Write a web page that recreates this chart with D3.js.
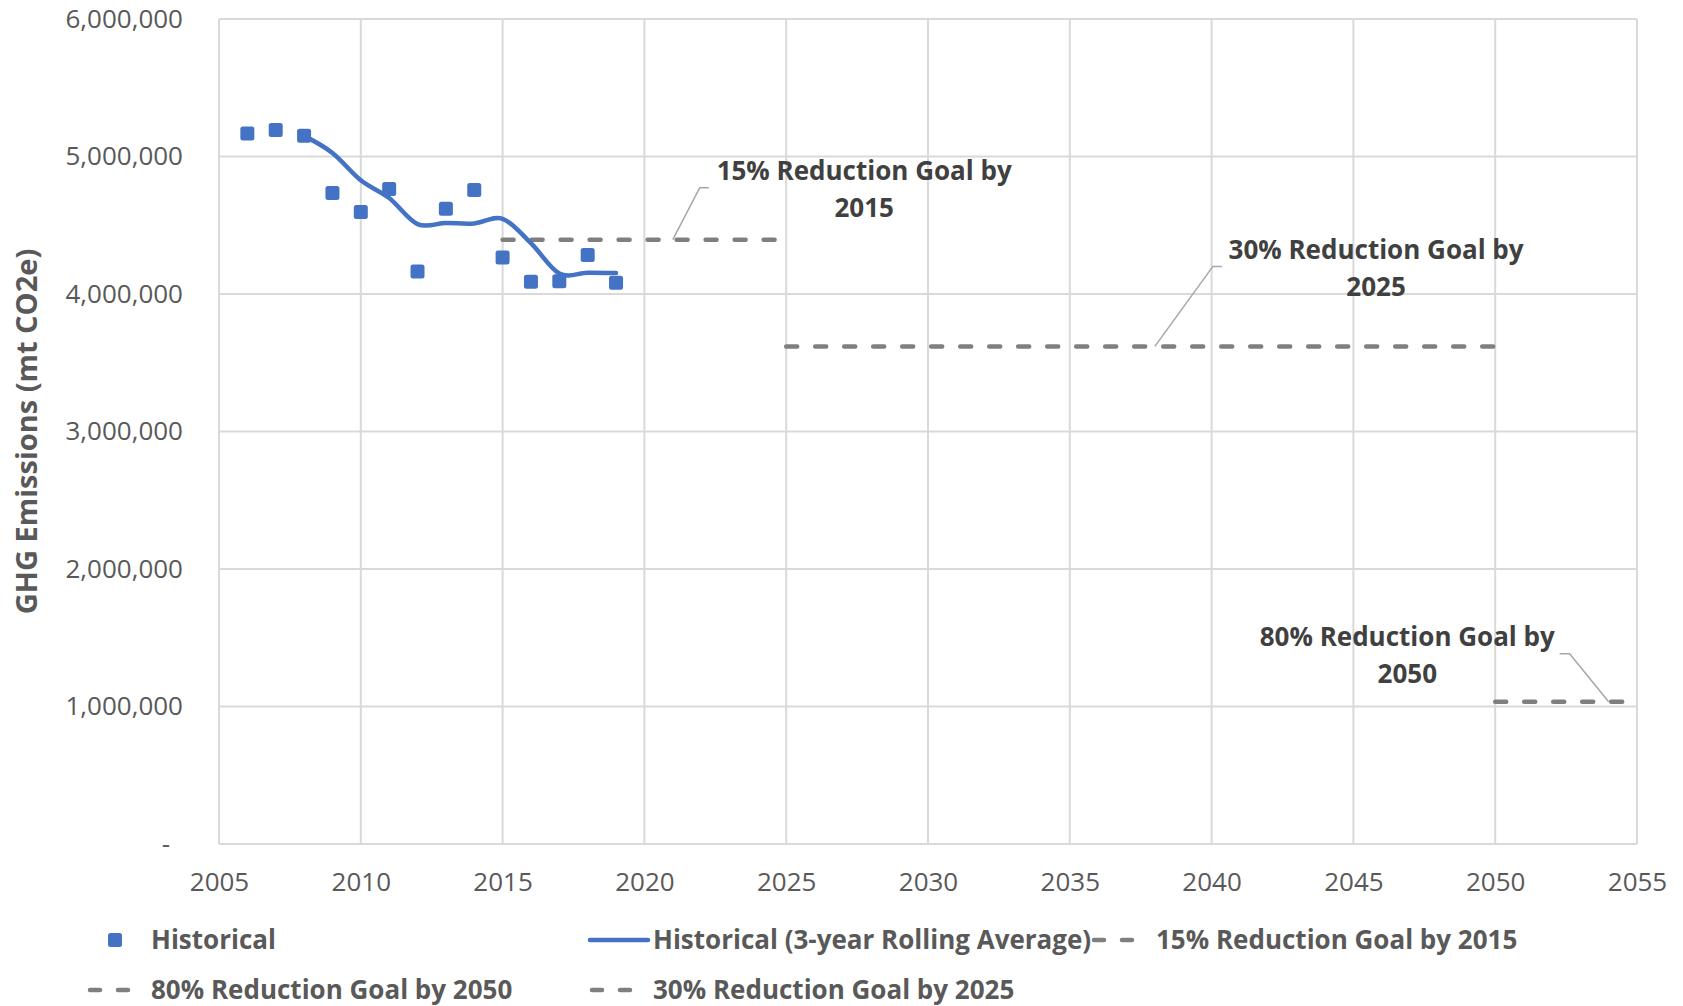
<!DOCTYPE html>
<html>
<head>
<meta charset="utf-8">
<script src="https://cdn.jsdelivr.net/npm/d3@7"></script>
<style>
  body { margin: 0; background: #fff; }
  text { font-family: "Segoe UI", "Open Sans", sans-serif; }
</style>
</head>
<body>
<div id="chart"></div>
<script>
// historical emissions (mt CO2e)
const years = [2006, 2007, 2008, 2009, 2010, 2011, 2012, 2013, 2014, 2015, 2016, 2017, 2018, 2019];
const historical = [5168000, 5193000, 5151000, 4735000, 4596000, 4764000, 4164000, 4620000, 4756000, 4266000, 4089000, 4092000, 4284000, 4082000];

// 3-year rolling average
const rollingYears = [2008, 2009, 2010, 2011, 2012, 2013, 2014, 2015, 2016, 2017, 2018, 2019];
const rolling = [5150000, 5026000, 4827000, 4698000, 4508000, 4516000, 4513000, 4547000, 4370000, 4149000, 4155000, 4153000];

// reduction goals
const goalNames = ["15% Reduction Goal by 2015", "30% Reduction Goal by 2025", "80% Reduction Goal by 2050"];
const goalStart = [2015, 2025, 2050];
const goalEnd = [2025, 2050, 2055];
const goalValue = [4395000, 3619000, 1034000];
const goalLabelLines = [["15% Reduction Goal by", "2015"], ["30% Reduction Goal by", "2025"], ["80% Reduction Goal by", "2050"]];

const xTicks = [2005, 2010, 2015, 2020, 2025, 2030, 2035, 2040, 2045, 2050, 2055];
const yTicks = [0, 1000000, 2000000, 3000000, 4000000, 5000000, 6000000];

const width = 1683, height = 1006;
const margin = {top: 19, right: 46, bottom: 162, left: 219};

const svg = d3.select('#chart')
  .append('svg')
  .attr('width', width)
  .attr('height', height);

svg.append('rect').attr('width', width).attr('height', height).attr('fill', '#fff');

const x = d3.scaleLinear().domain([2005, 2055]).range([margin.left, width - margin.right]);
const y = d3.scaleLinear().domain([0, 6000000]).range([height - margin.bottom, margin.top]);

// gridlines
svg.append('g').selectAll('line')
  .data(yTicks)
  .enter().append('line')
  .attr('x1', x(2005)).attr('x2', x(2055))
  .attr('y1', d => y(d)).attr('y2', d => y(d))
  .attr('stroke', '#d9d9d9').attr('stroke-width', 2);

svg.append('g').selectAll('line')
  .data(xTicks)
  .enter().append('line')
  .attr('x1', d => x(d)).attr('x2', d => x(d))
  .attr('y1', y(0)).attr('y2', y(6000000))
  .attr('stroke', '#d9d9d9').attr('stroke-width', 2);

// axes
const yAxis = svg.append('g')
  .attr('transform', `translate(${margin.left},0)`)
  .call(d3.axisLeft(y).tickValues(yTicks).tickSize(0).tickPadding(36)
    .tickFormat(d => d === 0 ? '-' : d3.format(',')(d)));
yAxis.select('.domain').remove();
yAxis.selectAll('text')
  .attr('fill', '#595959').style('font-size', '26px')
  .attr('dx', d => d === 0 ? -13 : 0);

const xAxis = svg.append('g')
  .attr('transform', `translate(0,${y(0)})`)
  .call(d3.axisBottom(x).tickValues(xTicks).tickSize(0).tickPadding(29).tickFormat(d3.format('d')));
xAxis.select('.domain').remove();
xAxis.selectAll('text').attr('fill', '#595959').style('font-size', '26px');

// axis title
svg.append('text')
  .attr('transform', `translate(37,${(y(0) + y(6000000)) / 2}) rotate(-90)`)
  .attr('text-anchor', 'middle')
  .attr('fill', '#595959')
  .style('font-size', '29px')
  .style('font-weight', 'bold')
  .text('GHG Emissions (mt CO2e)');

// goal lines
const dash = '11 18';
svg.append('g').selectAll('line')
  .data(goalValue)
  .enter().append('line')
  .attr('x1', (d, i) => x(goalStart[i]))
  .attr('x2', (d, i) => x(goalEnd[i]))
  .attr('y1', d => y(d)).attr('y2', d => y(d))
  .attr('stroke', '#7f7f7f')
  .attr('stroke-width', 4.5)
  .attr('stroke-dasharray', dash)
  .attr('stroke-linecap', 'round');

// annotation leaders and labels
const leaderYear = [2021, 2038, 2054];
const labelYear = [2027.75, 2045.8, 2046.9];
const labelValue = [4827000, 4251000, 1442000];
const elbowDx = [27, 58, -39];
const elbowDy = [-52, -80, -48];
const stubDx = [9, 9, -10];

const ann = svg.append('g');
goalValue.forEach((v, i) => {
  const px = x(leaderYear[i]), py = y(v);
  const ex = px + elbowDx[i], ey = py + elbowDy[i];
  ann.append('polyline')
    .attr('points', `${px},${py} ${ex},${ey} ${ex + stubDx[i]},${ey}`)
    .attr('fill', 'none')
    .attr('stroke', '#a6a6a6')
    .attr('stroke-width', 1.5);
  const t = ann.append('text')
    .attr('x', x(labelYear[i]))
    .attr('y', y(labelValue[i]))
    .attr('text-anchor', 'middle')
    .attr('fill', '#404040')
    .style('font-size', '26px')
    .style('font-weight', 'bold');
  goalLabelLines[i].forEach((s, j) => {
    t.append('tspan').attr('x', x(labelYear[i])).attr('dy', j === 0 ? 0 : 37).text(s);
  });
});

// rolling average
const line = d3.line()
  .x((d, i) => x(rollingYears[i]))
  .y(d => y(d))
  .curve(d3.curveCardinal);

svg.append('path')
  .datum(rolling)
  .attr('d', line)
  .attr('fill', 'none')
  .attr('stroke', '#4472c4')
  .attr('stroke-width', 4.5)
  .attr('stroke-linecap', 'round');

// historical markers
const ms = 14;
svg.append('g').selectAll('rect')
  .data(historical)
  .enter().append('rect')
  .attr('x', (d, i) => x(years[i]) - ms / 2)
  .attr('y', d => y(d) - ms / 2)
  .attr('width', ms).attr('height', ms)
  .attr('rx', 2.5)
  .attr('fill', '#4472c4');

// legend
const legendItems = [
  {name: 'Historical', type: 'marker', sx: 108, tx: 151, ty: 940},
  {name: 'Historical (3-year Rolling Average)', type: 'line', sx: 590, tx: 653, ty: 940},
  {name: goalNames[0], type: 'dash', sx: 1092, tx: 1156, ty: 940},
  {name: goalNames[2], type: 'dash', sx: 88, tx: 151, ty: 990},
  {name: goalNames[1], type: 'dash', sx: 590, tx: 653, ty: 990}
];

const legend = svg.append('g');
legendItems.forEach(it => {
  if (it.type === 'marker') {
    legend.append('rect')
      .attr('x', it.sx).attr('y', it.ty - 7)
      .attr('width', ms).attr('height', ms).attr('rx', 2.5)
      .attr('fill', '#4472c4');
  } else if (it.type === 'line') {
    legend.append('line')
      .attr('x1', it.sx).attr('x2', it.sx + 58)
      .attr('y1', it.ty).attr('y2', it.ty)
      .attr('stroke', '#4472c4').attr('stroke-width', 4.5).attr('stroke-linecap', 'round');
  } else {
    legend.append('line')
      .attr('x1', it.sx + 2).attr('x2', it.sx + 44)
      .attr('y1', it.ty).attr('y2', it.ty)
      .attr('stroke', '#7f7f7f').attr('stroke-width', 4.5)
      .attr('stroke-dasharray', '10 18').attr('stroke-linecap', 'round');
  }
  legend.append('text')
    .attr('x', it.tx).attr('y', it.ty)
    .attr('dy', '0.35em')
    .attr('fill', '#595959')
    .style('font-size', '26px')
    .style('font-weight', 'bold')
    .text(it.name);
});
</script>
</body>
</html>
